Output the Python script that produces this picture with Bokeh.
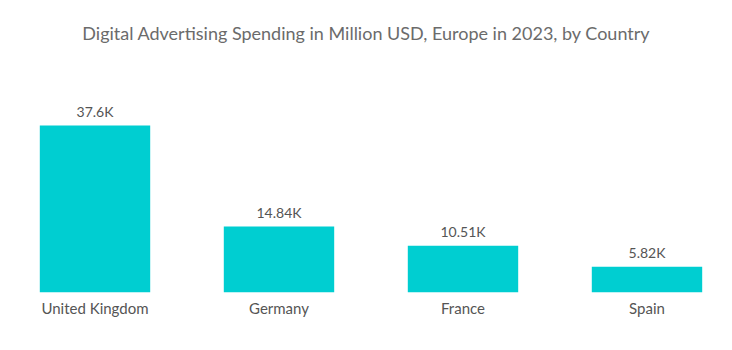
from bokeh.plotting import figure
from bokeh.models import ColumnDataSource, FixedTicker, Range1d, Label
from bokeh.embed import file_html
from bokeh.resources import INLINE
from bokeh.core.properties import value

title_text = "Digital Advertising Spending in Million USD, Europe in 2023, by Country"
countries = ["United Kingdom", "Germany", "France", "Spain"]
spending = [37.6, 14.84, 10.51, 5.82]
value_labels = ["37.6K", "14.84K", "10.51K", "5.82K"]

pos = list(range(len(countries)))
src = ColumnDataSource(dict(x=pos, top=spending, lab=value_labels))

x0, x1 = -0.5136, 3.4647
y1 = 65.75
p = figure(width=732, height=350, output_backend="svg", toolbar_location=None,
           x_range=Range1d(x0, x1), y_range=Range1d(0, y1),
           min_border_left=0, min_border_right=0, min_border_top=0, min_border_bottom=58)

p.add_layout(Label(x=(x0 + x1) / 2, y=y1 * 0.887, text=title_text, text_align="center",
                   text_baseline="middle", text_font="Lato", text_font_size="18px",
                   text_color="#6b6b6b"))

p.vbar(x="x", top="top", width=0.6, bottom=0, source=src, color="#00CED1", line_color=None)
p.text(x="x", y="top", text="lab", source=src, text_align="center", text_baseline="bottom",
       y_offset=-6, text_font=value("Lato"), text_font_size="14px", text_color="#555555")

p.xaxis.ticker = FixedTicker(ticks=pos)
p.xaxis.major_label_overrides = {i: c for i, c in enumerate(countries)}
p.xaxis.axis_line_color = None
p.xaxis.major_tick_line_color = None
p.xaxis.minor_tick_line_color = None
p.xaxis.major_label_text_font = "Lato"
p.xaxis.major_label_text_font_size = "15px"
p.xaxis.major_label_text_color = "#555555"
p.xaxis.major_label_standoff = 0
p.yaxis.visible = False
p.grid.visible = False
p.outline_line_color = None

open("out.html", "w").write(file_html(p, INLINE))
